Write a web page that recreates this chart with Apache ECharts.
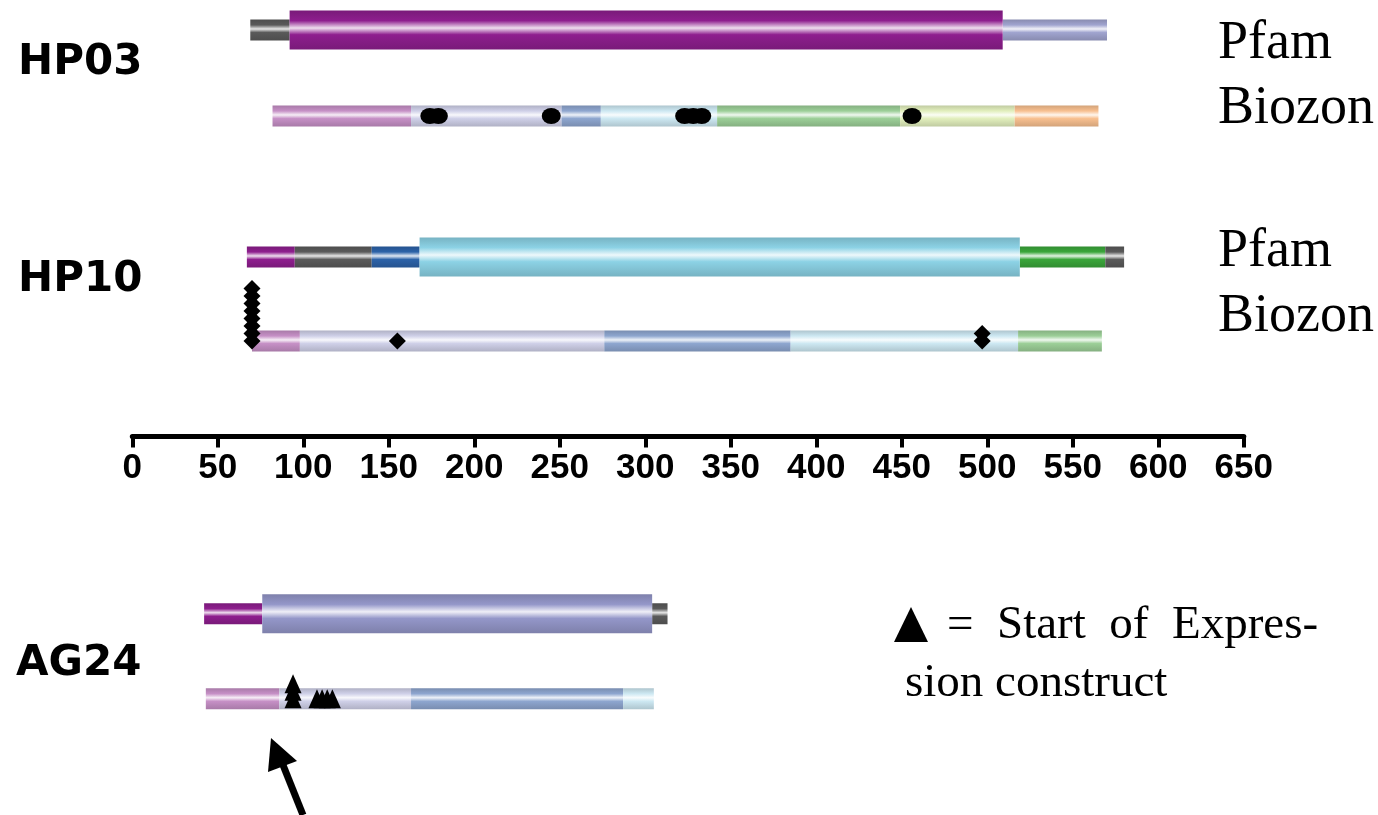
<!DOCTYPE html>
<html>
<head>
<meta charset="utf-8">
<title>Domain map</title>
<script src="https://cdn.jsdelivr.net/npm/echarts@6/dist/echarts.min.js"></script>
<style>
  html, body { margin: 0; padding: 0; background: #fff; }
  #chart { width: 1378px; height: 815px; }
</style>
</head>
<body>
<div id="chart"></div>
<script>
// residue scale
var axisMin = 0
var axisMax = 650
var axisStep = 50

var proteins = ['HP03', 'HP10', 'AG24']
var sources = ['Pfam', 'Biozon']

// segments: [start, end, colour, thick]
var hp03Pfam = [[69, 92, 'gray'], [92, 509, 'magenta', 1], [509, 570, 'periwinkle']]
var hp03Biozon = [[82, 163, 'orchid'], [163, 251, 'lilac'], [251, 274, 'steel'], [274, 342, 'ice'],
  [342, 449, 'sage'], [449, 516, 'lime'], [516, 565, 'peach']]
var hp10Pfam = [[67, 95, 'magenta'], [95, 140, 'gray'], [140, 168, 'royal'], [168, 519, 'sky', 1],
  [519, 569, 'green'], [569, 580, 'gray']]
var hp10Biozon = [[70, 98, 'orchid'], [98, 276, 'lilac'], [276, 385, 'steel'], [385, 518, 'ice'], [518, 567, 'sage']]
var ag24Pfam = [[42, 76, 'magenta'], [76, 304, 'lavender', 1], [304, 313, 'gray']]
var ag24Biozon = [[43, 86, 'orchid'], [86, 163, 'lilac'], [163, 287, 'steel'], [287, 305, 'ice']]

// marked sites on the Biozon row (repeated positions get stacked)
var hp03Sites = [174, 179, 245, 323, 328, 333, 456]
var hp10Sites = [70, 70, 70, 70, 70, 70, 70, 70, 155, 497, 497]
var ag24Sites = [94, 94, 94, 108, 111, 114, 117]

var colours = {
  gray: '#5a5a5a',
  magenta: '#8e1e8e',
  periwinkle: '#a0a4cf',
  lavender: '#9497c9',
  orchid: '#c690c6',
  lilac: '#cfd0e8',
  steel: '#8ea6cf',
  ice: '#cde8f2',
  sage: '#9ccf98',
  lime: '#e2efbd',
  peach: '#f8c090',
  royal: '#2c62a8',
  sky: '#8cd2e5',
  green: '#3aa63a'
}

var rows = [
  { segs: [hp03Pfam, hp03Biozon], sites: hp03Sites, symbol: 'circle', size: [19, 16], top: 8.5, band: 86 },
  { segs: [hp10Pfam, hp10Biozon], sites: hp10Sites, symbol: 'diamond', size: [17, 17], top: 236, band: 84 },
  { segs: [ag24Pfam, ag24Biozon], sites: ag24Sites, symbol: 'triangle', size: [17, 19], top: 592.5, band: 85 }
]

function mix(hex, other, t) {
  var a = parseInt(hex.slice(1), 16), b = parseInt(other.slice(1), 16)
  var r = Math.round(((a >> 16) & 255) * (1 - t) + ((b >> 16) & 255) * t)
  var g = Math.round(((a >> 8) & 255) * (1 - t) + ((b >> 8) & 255) * t)
  var bl = Math.round((a & 255) * (1 - t) + (b & 255) * t)
  return 'rgb(' + r + ',' + g + ',' + bl + ')'
}

// tube look: darker edges, light stripe through the middle
function tube(c) {
  return new echarts.graphic.LinearGradient(0, 0, 0, 1, [
    { offset: 0, color: mix(c, '#000000', 0.15) },
    { offset: 0.26, color: c },
    { offset: 0.45, color: mix(c, '#ffffff', 0.85) },
    { offset: 0.62, color: c },
    { offset: 1, color: mix(c, '#000000', 0.15) }
  ])
}

var grids = []
var xAxes = []
var yAxes = []
var series = []

rows.forEach(function (r, i) {
  grids.push({ left: 132.3, right: 134.2, top: r.top, height: r.band * 1.5, outerBoundsMode: 'none' })
  xAxes.push({ gridIndex: i, type: 'value', min: axisMin, max: axisMax, show: false })
  yAxes.push({ gridIndex: i, type: 'value', min: -0.25, max: 1.25, inverse: true, show: false })

  var segList = []
  r.segs.forEach(function (list, rowIdx) {
    list.forEach(function (s) {
      segList.push({ start: s[0], end: s[1], row: rowIdx, colour: s[2], thick: !!s[3] })
    })
  })
  series.push({
    type: 'custom',
    name: proteins[i],
    xAxisIndex: i,
    yAxisIndex: i,
    silent: true,
    data: segList.map(function (s) { return [s.start, s.end, s.row] }),
    renderItem: function (params, api) {
      var s = segList[params.dataIndex]
      var p0 = api.coord([s.start, s.row])
      var p1 = api.coord([s.end, s.row])
      var h = s.thick ? 39 : 21
      return {
        type: 'rect',
        shape: { x: p0[0], y: p0[1] - h / 2, width: p1[0] - p0[0], height: h },
        style: { fill: tube(colours[s.colour]) },
        z2: s.thick ? 2 : 1
      }
    },
    z: 2
  })

  var seen = {}
  series.push({
    type: 'scatter',
    xAxisIndex: i,
    yAxisIndex: i,
    silent: true,
    symbol: r.symbol,
    symbolSize: r.size,
    itemStyle: { color: '#000', opacity: 1 },
    data: r.sites.map(function (x) {
      var level = seen[x] || 0
      seen[x] = level + 1
      return { value: [x, 1], symbolOffset: [0, -level * 7.5] }
    }),
    z: 5
  })
})

// the residue axis in the middle
grids.push({ left: 132.3, right: 134.2, top: 0, height: 436.5, outerBoundsMode: 'none' })
xAxes.push({
  gridIndex: 3,
  type: 'value',
  position: 'bottom',
  min: axisMin,
  max: axisMax,
  interval: axisStep,
  axisLine: { show: true, lineStyle: { color: '#000', width: 5 } },
  axisTick: { show: true, length: 11, lineStyle: { color: '#000', width: 4 } },
  axisLabel: {
    show: true, margin: 14, color: '#000', fontSize: 35, fontWeight: 'bold',
    fontFamily: '"Liberation Sans", Arial, sans-serif',
    showMinLabel: true, showMaxLabel: true
  },
  splitLine: { show: false }
})
yAxes.push({ gridIndex: 3, type: 'value', show: false })

var sansBold = { fontSize: 42, fontWeight: 'bold', fontFamily: '"DejaVu Sans", sans-serif', fill: '#000', verticalAlign: 'middle' }
var serif = { fontSize: 54, fontFamily: '"Liberation Serif", "Times New Roman", serif', fill: '#000', verticalAlign: 'middle' }
var serifSmall = { fontSize: 47, fontFamily: '"Liberation Serif", "Times New Roman", serif', fill: '#000', verticalAlign: 'middle' }

var labelY = [63, 280, 664]
var sourceY = [[44, 109], [252, 317]]

var graphic = []
proteins.forEach(function (p, i) {
  graphic.push({ type: 'text', x: i === 2 ? 16 : 18, y: labelY[i], style: Object.assign({ text: p }, sansBold) })
})
sourceY.forEach(function (ys) {
  ys.forEach(function (y, k) {
    graphic.push({ type: 'text', x: 1218, y: y, style: Object.assign({ text: sources[k] }, serif) })
  })
})
// legend for the triangle (first line is spread out like justified text)
graphic.push({ type: 'polygon', shape: { points: [[911, 607], [928, 642], [894, 642]] }, style: { fill: '#000' } })
graphic.push({ type: 'text', x: 947, y: 626, style: Object.assign({ text: '=  Start  of  Expres-' }, serifSmall) })
graphic.push({ type: 'text', x: 905, y: 684, style: Object.assign({ text: 'sion construct' }, serifSmall) })
// arrow pointing at the start
graphic.push({ type: 'line', shape: { x1: 303, y1: 815, x2: 281, y2: 760 }, style: { stroke: '#000', lineWidth: 7 } })
graphic.push({ type: 'polygon', shape: { points: [[271, 738], [297, 761], [268, 772]] }, style: { fill: '#000' } })

var chart = echarts.init(document.getElementById('chart'), null, { renderer: 'canvas' })
chart.setOption({
  animation: false,
  backgroundColor: '#fff',
  grid: grids,
  xAxis: xAxes,
  yAxis: yAxes,
  series: series,
  graphic: graphic
})
</script>
</body>
</html>
